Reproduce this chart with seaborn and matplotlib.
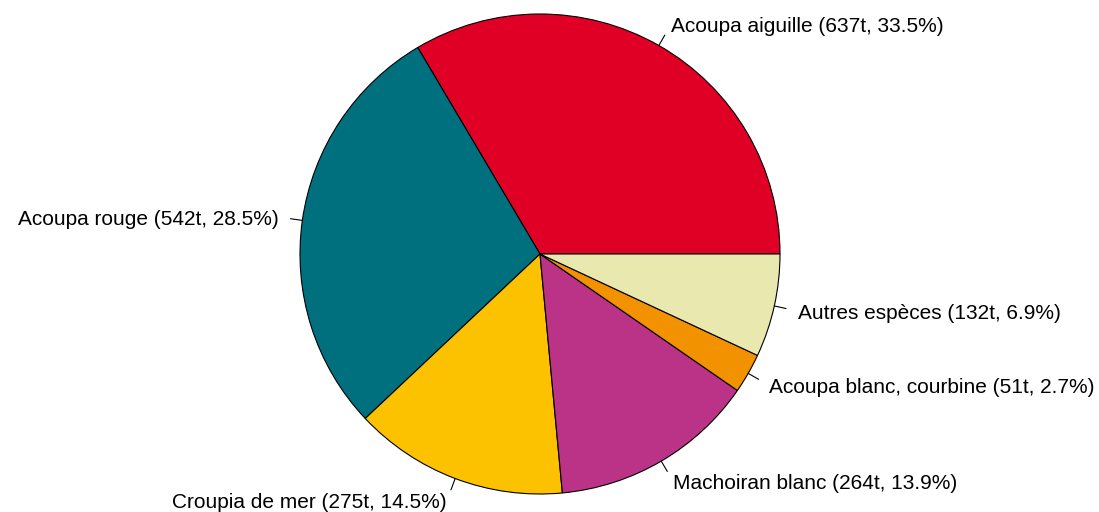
import numpy as np
import matplotlib
matplotlib.use('Agg')
import matplotlib.pyplot as plt
import seaborn as sns

species = ['Acoupa aiguille', 'Acoupa rouge', 'Croupia de mer', 'Machoiran blanc',
           'Acoupa blanc, courbine', 'Autres espèces']
tonnes = [637, 542, 275, 264, 51, 132]
colors = ['#E00025', '#00707F', '#FCC200', '#BA3387', '#F39200', '#E8E8AF']

sns.set_theme(style='white')
plt.rcParams['font.family'] = ['Liberation Sans', 'DejaVu Sans']

total = sum(tonnes)
labels = ['%s (%dt, %.1f%%)' % (s, t, 100.0 * t / total) for s, t in zip(species, tonnes)]

fig = plt.figure(figsize=(10.99, 5.12), dpi=100)
ax = fig.add_axes([0, 0, 1, 1])

cx, cy, r = 540, 258, 240
wedges, texts = ax.pie(tonnes, labels=labels, colors=sns.color_palette(colors),
                       startangle=0, counterclock=True, center=(cx, cy), radius=r,
                       labeldistance=1.1, frame=True,
                       wedgeprops=dict(edgecolor='black', linewidth=0.8),
                       textprops=dict(fontsize=15, color='black'))
ax.set_xlim(0, 1099)
ax.set_ylim(0, 512)
ax.set_aspect('equal')
ax.axis('off')

# little tick lines like base R pie(), and fix label alignment
for w, t in zip(wedges, texts):
    a = np.deg2rad((w.theta1 + w.theta2) / 2)
    ax.plot([cx + r * np.cos(a), cx + 1.05 * r * np.cos(a)],
            [cy + r * np.sin(a), cy + 1.05 * r * np.sin(a)],
            color='black', linewidth=0.8)
    t.set_ha('left' if np.cos(a) > 0 else 'right')
    t.set_va('center_baseline')

fig.savefig('out.png', dpi=100)
